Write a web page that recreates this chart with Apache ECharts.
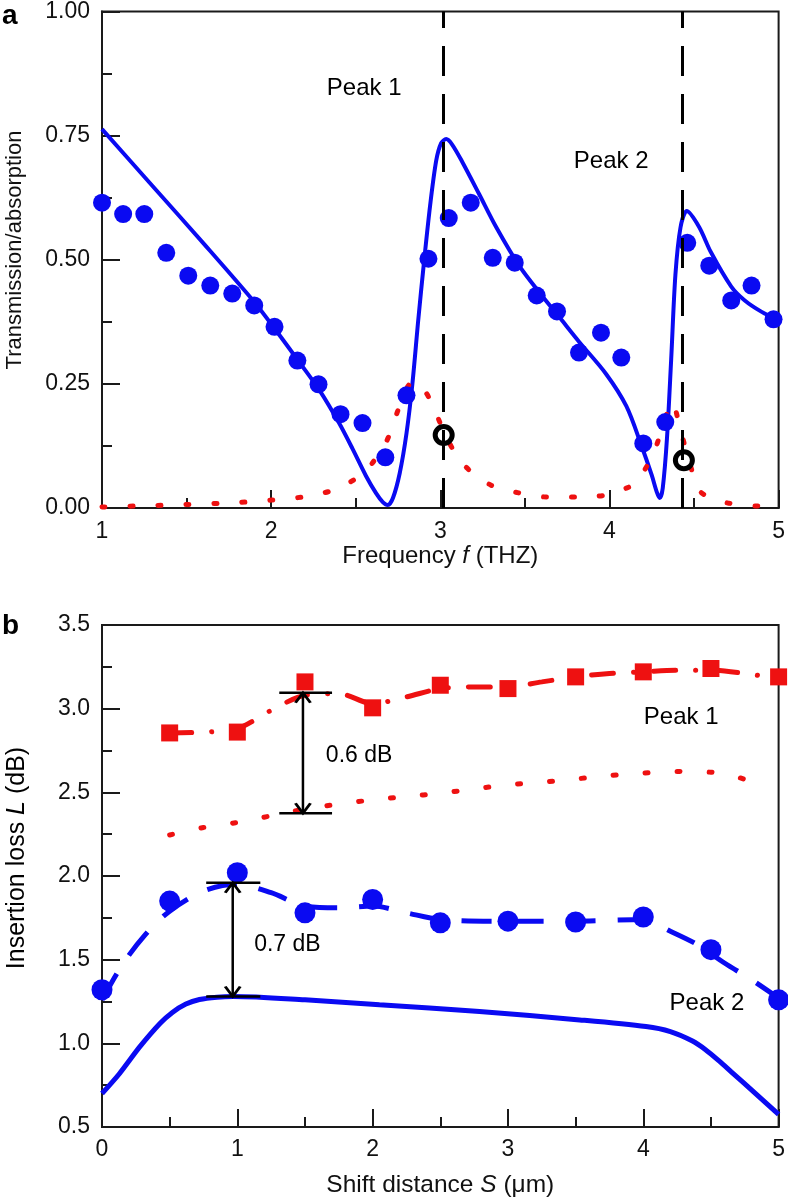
<!DOCTYPE html>
<html><head><meta charset="utf-8">
<script src="https://cdn.jsdelivr.net/npm/echarts@6/dist/echarts.min.js"></script>
<style>html,body{margin:0;padding:0;background:#fff}#c{width:788px;height:1200px}</style>
</head><body><div id="c"></div>
<script>
// ---------- Panel a ----------
const freqTheory = [1.0,1.3,1.6,1.9,2.03,2.17,2.29,2.40,2.48,2.56,2.62,2.66,2.69,2.72,2.76,2.80,2.835,2.87,2.905,2.94,2.976,3.005,3.035,3.07,3.13,3.23,3.33,3.47,3.60,3.70,3.82,3.98,4.10,4.19,4.25,4.28,4.297,4.315,4.34,4.365,4.39,4.42,4.457,4.53,4.60,4.72,4.80,4.90,5.0];
const transTheory = [0.763,0.648,0.533,0.415,0.357,0.292,0.235,0.172,0.12,0.065,0.03,0.012,0.006,0.02,0.07,0.15,0.25,0.38,0.50,0.61,0.70,0.735,0.743,0.732,0.697,0.632,0.566,0.486,0.428,0.386,0.335,0.27,0.205,0.125,0.066,0.032,0.02,0.04,0.14,0.30,0.47,0.565,0.598,0.566,0.515,0.446,0.418,0.395,0.378];
const freqExp = [1.0,1.125,1.25,1.38,1.51,1.64,1.77,1.90,2.02,2.155,2.28,2.41,2.54,2.675,2.80,2.93,3.05,3.18,3.31,3.44,3.57,3.69,3.82,3.95,4.07,4.20,4.33,4.46,4.59,4.72,4.84,4.97];
const transExp = [0.615,0.592,0.592,0.514,0.468,0.448,0.432,0.408,0.365,0.297,0.249,0.189,0.171,0.102,0.227,0.502,0.584,0.615,0.504,0.494,0.428,0.396,0.313,0.353,0.303,0.13,0.173,0.534,0.488,0.418,0.448,0.38];
const freqAbs = [1.0,1.2,1.5,1.8,2.0,2.2,2.4,2.56,2.68,2.75,2.80,2.84,2.90,2.955,3.03,3.13,3.30,3.47,3.64,3.81,3.98,4.10,4.16,4.26,4.32,4.37,4.42,4.47,4.53,4.60,4.70,4.87,5.0];
const absorption = [0.002,0.004,0.007,0.011,0.016,0.023,0.04,0.076,0.133,0.197,0.24,0.255,0.24,0.207,0.147,0.09,0.046,0.03,0.022,0.022,0.026,0.04,0.052,0.11,0.17,0.213,0.157,0.096,0.036,0.02,0.01,0.004,0.002];
const peakFreqs = [3.02, 4.435];
const peakMarkX = [3.02, 4.44];
const peakMarkY = [0.147, 0.096];
const labelsA = ['Peak 1','Peak 2'];
const labelsAX = [2.55, 4.01];
const labelsAY = [0.845, 0.699];
const labelsASize = [24, 24];

// ---------- Panel b ----------
const shiftRed = [0.5,1,1.5,2,2.5,3,3.5,4,4.5,5];
const lossRedExp = [2.855,2.86,3.16,3.005,3.14,3.12,3.19,3.22,3.24,3.19];
const shiftRedFit = [0.5,0.75,1,1.25,1.5,1.75,2,2.25,2.5,2.75,3,3.25,3.5,3.75,4,4.25,4.5,4.75,5];
const lossRedFit = [2.855,2.86,2.88,2.99,3.08,3.09,3.03,3.07,3.12,3.13,3.13,3.16,3.19,3.21,3.22,3.23,3.23,3.21,3.18];
const shiftRedSim = [0.5,0.75,1,1.25,1.5,1.75,2,2.25,2.5,2.75,3,3.25,3.5,3.75,4,4.25,4.5,4.7,4.9];
const lossRedSim = [2.245,2.29,2.32,2.36,2.40,2.43,2.455,2.475,2.495,2.52,2.545,2.56,2.58,2.60,2.615,2.625,2.62,2.59,2.53];
const shiftBlue = [0,0.5,1,1.5,2,2.5,3,3.5,4,4.5,5];
const lossBlueExp = [1.32,1.85,2.02,1.78,1.86,1.72,1.73,1.725,1.755,1.56,1.26];
const shiftBlueFit = [0,0.15,0.32,0.5,0.75,1,1.25,1.5,1.75,2,2.25,2.5,3,3.5,4,4.2,4.4,4.6,4.8,5];
const lossBlueFit = [1.26,1.47,1.65,1.79,1.91,1.95,1.90,1.82,1.81,1.82,1.78,1.74,1.73,1.73,1.74,1.67,1.59,1.48,1.38,1.27];
const shiftBlueSim = [0,0.13,0.28,0.43,0.52,0.62,0.72,0.85,0.97,1.5,2.05,2.79,3.53,4.02,4.20,4.36,4.46,4.56,4.65,4.83,5.0];
const lossBlueSim = [0.70,0.82,0.98,1.12,1.185,1.235,1.262,1.276,1.28,1.26,1.23,1.19,1.14,1.10,1.07,1.015,0.962,0.895,0.83,0.70,0.575];
// annotation arrows: [x, yTop, yBottom, capLeft, capRight]
const arrow06 = [1.485, 3.095, 2.375, 1.31, 1.70];
const arrow07 = [0.966, 1.96, 1.28, 0.77, 1.17];
const labelsB = ['Peak 1','Peak 2','0.6 dB','0.7 dB'];
const labelsBX = [4.28, 4.47, 1.90, 1.37];
const labelsBY = [2.95, 1.24, 2.72, 1.59];
const labelsBSize = [24, 24, 23, 23];

const zip = (xs, ys) => xs.map((x, i) => [x, ys[i]]);
const BLUE = '#0a0af2', RED = '#ee1111', INK = '#1a1a1a';
const FONT = 'Liberation Sans, Arial, Helvetica, sans-serif';

function axisCommon(min, max, interval, dec, margin) {
  return {
    type: 'value', min, max, interval,
    axisLine: { show: true, onZero: false, lineStyle: { color: INK, width: 2 } },
    axisTick: { show: true, inside: true, length: 18, lineStyle: { color: INK, width: 2 } },
    minorTick: { show: true, splitNumber: 2, length: 10, lineStyle: { color: INK, width: 2 } },
    splitLine: { show: false },
    axisLabel: { color: '#111', fontSize: 23, fontFamily: FONT, margin,
      formatter: v => v.toFixed(dec) }
  };
}
function rich(size) {
  return {
    n: { fontSize: size, fontFamily: FONT, color: '#111', lineHeight: size + 3 },
    i: { fontSize: size, fontFamily: FONT, color: '#111', fontStyle: 'italic', lineHeight: size + 3 }
  };
}

function arrowSeries(a, idx) {
  const [x, yt, yb, cl, cr] = a;
  const common = { type: 'line', xAxisIndex: idx, yAxisIndex: idx, silent: true, z: 6,
    lineStyle: { color: '#000', width: 2.5 } };
  return [
    Object.assign({}, common, {
      data: [
        { value: [x, yt], symbol: 'path://M0,10L5,0L10,10', symbolOffset: [0, '50%'] },
        { value: [x, yb], symbol: 'path://M0,0L5,10L10,0', symbolOffset: [0, '-50%'] }
      ],
      symbolSize: [15, 10], showSymbol: true,
      itemStyle: { color: 'rgba(0,0,0,0)', borderColor: '#000', borderWidth: 2.5 }
    }),
    Object.assign({}, common, { data: [[cl, yt], [cr, yt]], symbol: 'none' }),
    Object.assign({}, common, { data: [[cl, yb], [cr, yb]], symbol: 'none' })
  ];
}

function textSeries(names, xs, ys, sizes, idx) {
  return {
    type: 'scatter', xAxisIndex: idx, yAxisIndex: idx, silent: true, z: 8,
    symbolSize: 1, itemStyle: { color: 'rgba(0,0,0,0)', opacity: 1 },
    data: names.map((n, i) => ({ name: n, value: [xs[i], ys[i]],
      label: { fontSize: sizes[i] } })),
    label: { show: true, position: 'inside', formatter: p => p.name,
      color: '#000', opacity: 1, fontFamily: FONT }
  };
}

const chart = echarts.init(document.getElementById('c'), null, { renderer: 'canvas' });
chart.setOption({
  backgroundColor: '#fff',
  animation: false,
  grid: [
    { left: 102, top: 10, width: 678, height: 498, show: true, borderColor: INK, borderWidth: 2 },
    { left: 102, top: 625, width: 678, height: 502, show: true, borderColor: INK, borderWidth: 2 }
  ],
  xAxis: [
    Object.assign(axisCommon(1, 5, 1, 0, 12), { gridIndex: 0,
      name: '{n|Frequency }{i|f}{n| (THZ)}', nameLocation: 'middle', nameGap: 27,
      nameTextStyle: { rich: rich(24) } }),
    Object.assign(axisCommon(0, 5, 1, 0, 11), { gridIndex: 1,
      name: '{n|Shift distance }{i|S}{n| (μm)}', nameLocation: 'middle', nameGap: 44,
      nameTextStyle: { rich: rich(24.5) } })
  ],
  yAxis: [
    Object.assign(axisCommon(0, 1, 0.25, 2, 12), { gridIndex: 0 }),
    Object.assign(axisCommon(0.5, 3.5, 0.5, 1, 12), { gridIndex: 1 })
  ],
  graphic: [
    { type: 'text', left: 2, top: 2, style: { text: 'a', font: 'bold 28px ' + FONT, fill: '#000' } },
    { type: 'text', left: 2, top: 612, style: { text: 'b', font: 'bold 28px ' + FONT, fill: '#000' } },
    { type: 'text', x: 15, y: 250, rotation: Math.PI / 2,
      style: { text: 'Transmission/absorption', font: '22px ' + FONT, fill: '#111',
        align: 'center', verticalAlign: 'middle' } },
    { type: 'text', x: 17, y: 858, rotation: Math.PI / 2,
      style: { text: '{n|Insertion loss }{i|L}{n| (dB)}', rich: rich(25),
        align: 'center', verticalAlign: 'middle' } }
  ],
  series: [
    // Panel a
    { type: 'line', xAxisIndex: 0, yAxisIndex: 0, data: zip(freqTheory, transTheory),
      symbol: 'none', smooth: 0.3, lineStyle: { color: BLUE, width: 4 }, z: 2 },
    { type: 'line', xAxisIndex: 0, yAxisIndex: 0, data: zip(freqAbs, absorption),
      symbol: 'none', smooth: 0.3,
      lineStyle: { color: RED, width: 5, type: [3, 25], cap: 'round' }, z: 3 },
    { type: 'scatter', xAxisIndex: 0, yAxisIndex: 0, data: zip(freqExp, transExp),
      symbol: 'circle', symbolSize: 18, itemStyle: { color: BLUE, opacity: 1 }, z: 4 },
    { type: 'scatter', xAxisIndex: 0, yAxisIndex: 0, data: zip(peakMarkX, peakMarkY),
      symbol: 'circle', symbolSize: 17, z: 6,
      itemStyle: { color: 'rgba(0,0,0,0)', borderColor: '#000', borderWidth: 5, opacity: 1 },
      markLine: { silent: true, symbol: ['none', 'none'], label: { show: false },
        lineStyle: { color: '#000', width: 3, type: [30, 18] },
        data: peakFreqs.map(v => ({ xAxis: v })) } },
    textSeries(labelsA, labelsAX, labelsAY, labelsASize, 0),
    // Panel b
    { type: 'line', xAxisIndex: 1, yAxisIndex: 1, data: zip(shiftBlueSim, lossBlueSim),
      symbol: 'none', smooth: 0.3, lineStyle: { color: BLUE, width: 5 }, z: 2 },
    { type: 'line', xAxisIndex: 1, yAxisIndex: 1, data: zip(shiftRedSim, lossRedSim),
      symbol: 'none', smooth: 0.3,
      lineStyle: { color: RED, width: 5, type: [3, 29], cap: 'round' }, z: 2 },
    { type: 'line', xAxisIndex: 1, yAxisIndex: 1, data: zip(shiftBlueFit, lossBlueFit),
      symbol: 'none', smooth: 0.3,
      lineStyle: { color: BLUE, width: 5, type: [30, 22] }, z: 3 },
    { type: 'line', xAxisIndex: 1, yAxisIndex: 1, data: zip(shiftRedFit, lossRedFit),
      symbol: 'none', smooth: 0.3,
      lineStyle: { color: RED, width: 5, type: [22, 20, 0.1, 20], cap: 'round' }, z: 3 },
    { type: 'scatter', xAxisIndex: 1, yAxisIndex: 1, data: zip(shiftBlue, lossBlueExp),
      symbol: 'circle', symbolSize: 21, itemStyle: { color: BLUE, opacity: 1 }, z: 4 },
    { type: 'scatter', xAxisIndex: 1, yAxisIndex: 1, data: zip(shiftRed, lossRedExp),
      symbol: 'rect', symbolSize: 17, itemStyle: { color: RED, opacity: 1 }, z: 4 },
    ...arrowSeries(arrow06, 1),
    ...arrowSeries(arrow07, 1),
    textSeries(labelsB, labelsBX, labelsBY, labelsBSize, 1)
  ]
});
</script></body></html>
